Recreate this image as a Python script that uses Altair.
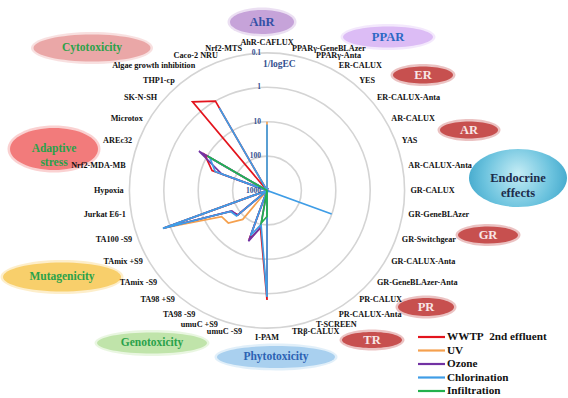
import altair as alt
import pandas as pd

# Bioassays, clockwise from the top of the radar
categories = [
    "AhR-CAFLUX", "PPARγ-GeneBLAzer", "PPARγ-Anta", "ER-CALUX", "YES",
    "ER-CALUX-Anta", "AR-CALUX", "YAS", "AR-CALUX-Anta", "GR-CALUX",
    "GR-GeneBLAzer", "GR-Switchgear", "GR-CALUX-Anta", "GR-GeneBLAzer-Anta",
    "PR-CALUX", "PR-CALUX-Anta", "T-SCREEN", "TRβ-CALUX", "I-PAM",
    "umuC -S9", "umuC +S9", "TA98 -S9", "TA98 +S9", "TAmix -S9", "TAmix +S9",
    "TA100 -S9", "Jurkat E6-1", "Hypoxia", "Nrf2-MDA-MB", "AREc32", "Microtox",
    "SK-N-SH", "THP1-cp", "Algae growth inhibition", "Caco-2 NRU", "Nrf2-MTS",
]

series_names = ["WWTP\u00a0 2nd effluent", "UV", "Ozone", "Chlorination", "Infiltration"]
series_colors = ["#e3141d", "#f5a04e", "#7232a3", "#3f9de6", "#23b14d"]

# Effect concentrations per bioassay (1000 = no effect, drawn at the centre)
wwtp = [1000, 1000, 1000, 1000, 1000, 1000, 1000, 1000, 1000, 1000, 1000, 1000,
        1000, 1000, 1000, 1000, 1000, 1000, 0.66, 80, 30, 1000, 1000, 80,
        60, 0.62, 1000, 1000, 1000, 20, 8, 1000, 0.43, 1.0, 1000, 1000]
uv = [10, 1000, 1000, 1000, 1000, 1000, 1000, 1000, 1000, 1000, 1000, 1000,
      1000, 1000, 1000, 1000, 1000, 1000, 1000, 1000, 1000, 1000, 80, 34,
      30, 0.65, 1000, 1000, 1000, 1000, 25, 1000, 1000, 1000, 1000, 1000]
ozone = [1000, 1000, 1000, 1000, 1000, 1000, 1000, 1000, 1000, 1000, 1000, 1000,
         1000, 1000, 1000, 1000, 1000, 1000, 1000, 80, 27, 1000, 1000, 76,
         66, 0.65, 1000, 1000, 1000, 40, 5.2, 1000, 1000, 1000, 1000, 1000]
chlorination = [12, 1000, 1000, 1000, 1000, 1000, 1000, 1000, 1000, 1000, 1000, 10,
                1000, 1000, 1000, 1000, 1000, 1000, 0.8, 100, 40, 1000, 1000, 70,
                60, 0.6, 1000, 1000, 1000, 25, 12, 1000, 1000, 1.7, 1000, 1000]
infiltration = [1000, 1000, 1000, 1000, 1000, 1000, 1000, 1000, 1000, 1000, 1000, 1000,
                1000, 1000, 1000, 1000, 1000, 1000, 175, 110, 1000, 1000, 1000, 1000,
                1000, 1000, 1000, 1000, 1000, 1000, 10, 1000, 1000, 1000, 1000, 1000]
series_values = [wwtp, uv, ozone, chlorination, infiltration]

# Radial grid (1/logEC, reversed log scale)
ring_levels = [1000, 100, 10, 1, 0.1]
ring_labels = ["1000", "100", "10", "1", "0.1"]

# Group badges around the radar: text, centre (px), size (px), fill, text colour
GREEN_TXT = "#2aa24a"
RED_FILL = "#c7504f"
RED_TXT = "#f8e6e6"
badges = [
    ("AhR", 262, 22, 64, 24, "#c6a3d9", "#3451a6", 12.5),
    ("PPAR", 388, 37, 90, 21, "#dcbcf5", "#2c68c4", 12.5),
    ("ER", 423, 75, 60, 17, RED_FILL, RED_TXT, 12.5),
    ("AR", 469, 130, 58, 17, RED_FILL, RED_TXT, 12.5),
    ("GR", 488, 235, 60, 17, RED_FILL, RED_TXT, 12.5),
    ("PR", 426, 307, 56, 18, RED_FILL, RED_TXT, 12.5),
    ("TR", 372, 340, 60, 16, RED_FILL, RED_TXT, 12.5),
    ("Phytotoxicity", 276, 357, 118, 22, "#a9d0ef", "#2c62b3", 11.5),
    ("Genotoxicity", 152, 343, 110, 21, "#c0e4aa", GREEN_TXT, 11.5),
    ("Mutagenicity", 62, 277, 118, 29, "#f8cf6b", GREEN_TXT, 11.5),
    ("Adaptive\nstress", 54, 149, 88, 42, "#f27b7b", GREEN_TXT, 11.5),
    ("Cytotoxicity", 92, 48, 117, 27, "#eaa7a7", GREEN_TXT, 11.5),
]
endocrine = ("Endocrine\neffects", 518, 178, 98, 58)

# Canvas geometry: radar centre and pixels per decade
W, H = 568, 398
CX, CY = 267, 190.5
PX = 34.4
SERIF = "Liberation Serif"

xscale = alt.Scale(domain=[-CX / PX, (W - CX) / PX], nice=False, zero=False)
yscale = alt.Scale(domain=[-(H - CY) / PX, CY / PX], nice=False, zero=False)


def xy(xf="x", yf="y"):
    return dict(x=alt.X(f"{xf}:Q", scale=xscale, axis=None),
                y=alt.Y(f"{yf}:Q", scale=yscale, axis=None))


color_scale = alt.Scale(domain=series_names, range=series_colors)
layers = []

# Grid rings
rings = pd.DataFrame({"level": ring_levels, "label": ring_labels})
layers.append(
    alt.Chart(rings)
    .transform_calculate(r="3 - log(datum.level) / LN10")
    .transform_filter("datum.r > 0")
    .transform_calculate(sz=f"pow(2 * datum.r * {PX}, 2)", x="0", y="0")
    .mark_point(shape="circle", filled=False, stroke="#d4d4d4", strokeWidth=1.6, opacity=1)
    .encode(size=alt.Size("sz:Q", scale=None), **xy())
)


# Badge ellipses (with a faint soft rim)
def ellipse_path(w, h):
    k = h / w
    return f"M-1,0A1,{k:.4f},0,1,1,1,0A1,{k:.4f},0,1,1,-1,0Z"


bdf = pd.DataFrame([
    {"text": t, "x": (px - CX) / PX, "y": (CY - py) / PX, "sz": w * w,
     "path": ellipse_path(w, h), "hsz": (w + 5) ** 2, "hpath": ellipse_path(w + 5, h + 5),
     "fill": f, "tc": tc, "fs": fs}
    for t, px, py, w, h, f, tc, fs in badges
])
layers.append(
    alt.Chart(bdf).mark_point(filled=True, opacity=0.35, strokeWidth=0)
    .encode(shape=alt.Shape("hpath:N", scale=None), size=alt.Size("hsz:Q", scale=None),
            fill=alt.Fill("fill:N", scale=None), **xy())
)
layers.append(
    alt.Chart(bdf).mark_point(filled=True, opacity=1, strokeWidth=0)
    .encode(shape=alt.Shape("path:N", scale=None), size=alt.Size("sz:Q", scale=None),
            fill=alt.Fill("fill:N", scale=None), **xy())
)
et, epx, epy, ew, eh = endocrine
edf = pd.DataFrame([{"text": et, "x": (epx - CX) / PX, "y": (CY - epy) / PX,
                     "sz": ew * ew, "path": ellipse_path(ew, eh)}])
layers.append(
    alt.Chart(edf).mark_point(
        filled=True, opacity=1, strokeWidth=0,
        fill=alt.Gradient(gradient="radial",
                          stops=[alt.GradientStop(color="#c4ecf5", offset=0),
                                 alt.GradientStop(color="#6cc3de", offset=0.55),
                                 alt.GradientStop(color="#2f9cc4", offset=1)],
                          x1=0.5, y1=0.45, r1=0, x2=0.5, y2=0.5, r2=0.62))
    .encode(shape=alt.Shape("path:N", scale=None), size=alt.Size("sz:Q", scale=None), **xy())
)
for fs in sorted(set(bdf["fs"])):
    layers.append(
        alt.Chart(bdf[bdf["fs"] == fs]).mark_text(
            font=SERIF, fontWeight="bold", fontSize=fs, lineBreak="\n", lineHeight=14,
            baseline="middle", align="center")
        .encode(text="text:N", color=alt.Color("tc:N", scale=None), **xy())
    )
layers.append(
    alt.Chart(edf).mark_text(font=SERIF, fontWeight="bold", fontSize=12.5, lineBreak="\n",
                             lineHeight=15, baseline="middle", align="center",
                             color="#1c2b4a")
    .encode(text="text:N", **xy())
)

# Data series as closed radar polygons
for name, color, vals in zip(series_names, series_colors, series_values):
    sdf = pd.DataFrame({"series": name, "idx": list(range(len(categories))), "value": vals})
    layers.append(
        alt.Chart(sdf)
        .transform_calculate(r="3 - log(datum.value) / LN10",
                             th=f"datum.idx * 2 * PI / {len(categories)}")
        .transform_calculate(x="datum.r * sin(datum.th)", y="datum.r * cos(datum.th)")
        .mark_line(interpolate="linear-closed", strokeWidth=1.7)
        .encode(color=alt.Color("series:N", scale=color_scale, legend=None),
                order="idx:Q", **xy())
    )

# Ring value labels
layers.append(
    alt.Chart(rings)
    .transform_calculate(r="3 - log(datum.level) / LN10", x="0")
    .mark_text(font=SERIF, fontWeight="bold", fontSize=7.5, align="right",
               baseline="middle", dx=-6, color="#34508f")
    .encode(text="label:N", **xy("x", "r"))
)
layers.append(
    alt.Chart(pd.DataFrame({"t": ["1/logEC"]}))
    .mark_text(font=SERIF, fontWeight="bold", fontSize=9.5, align="left",
               baseline="middle", color="#34508f")
    .encode(text="t:N", x=alt.value(263), y=alt.value(64))
)

# Bioassay labels around the outer ring
n = len(categories)
ldf = pd.DataFrame({"label": categories, "idx": list(range(n))})
ldf["side"] = ["center" if i in (0, n // 2) else ("left" if i < n // 2 else "right")
               for i in ldf["idx"]]
for side, rad in [("center", 4.3), ("left", 4.17), ("right", 4.17)]:
    layers.append(
        alt.Chart(ldf[ldf["side"] == side])
        .transform_calculate(th=f"datum.idx * 2 * PI / {n}")
        .transform_calculate(x=f"{rad} * sin(datum.th)", y=f"{rad} * cos(datum.th)")
        .mark_text(font=SERIF, fontWeight="bold", fontSize=8.2, align=side,
                   baseline="middle", color="#111111")
        .encode(text="label:N", **xy())
    )

# Legend
leg = pd.DataFrame({"series": series_names, "rank": list(range(len(series_names)))})
leg_calc = dict(ly=f"({CY} - (337 + datum.rank * 13.5)) / {PX}")
layers.append(
    alt.Chart(leg).transform_calculate(**leg_calc)
    .mark_rule(strokeWidth=2.2)
    .encode(x=alt.value(418), x2=alt.value(445),
            y=alt.Y("ly:Q", scale=yscale, axis=None),
            color=alt.Color("series:N", scale=color_scale, legend=None))
)
layers.append(
    alt.Chart(leg).transform_calculate(**leg_calc)
    .mark_text(font=SERIF, fontWeight="bold", fontSize=11.2, align="left",
               baseline="middle", color="#111111")
    .encode(x=alt.value(447), y=alt.Y("ly:Q", scale=yscale, axis=None), text="series:N")
)

chart = (
    alt.layer(*layers)
    .properties(width=W, height=H, autosize=alt.AutoSizeParams(type="none"),
                padding=0, background="white")
    .configure_view(stroke=None)
)
chart.save("out.html", embed_options={"renderer": "svg", "actions": False})
